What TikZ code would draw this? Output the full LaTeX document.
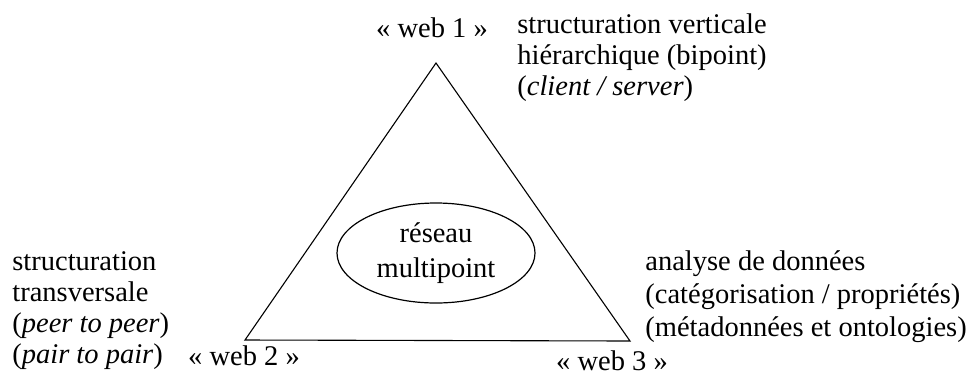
\documentclass[tikz,border=0pt]{standalone}
\usepackage{fontspec}
\setmainfont{Liberation Serif}
\usetikzlibrary{shapes.geometric}

\tikzset{
  txt/.style={inner sep=0pt, font=\fontsize{14.25}{15.5}\selectfont},
  block/.style={txt, anchor=base west, align=left},
  weblabel/.style={txt, anchor=base}
}

\begin{document}
\begin{tikzpicture}[x=0.5pt, y=-0.5pt]
\useasboundingbox (0,0) rectangle (970,382);
% the triangle
\coordinate (apex) at (436,63);
\coordinate (left) at (245,340);
\coordinate (right) at (630,341);
\draw[line width=0.55pt] (apex) -- (left) -- (right) -- cycle;
\node[ellipse, draw, line width=0.6pt, minimum width=99pt, minimum height=50pt,
  inner sep=0pt, align=center, font=\fontsize{14.25}{17.5}\selectfont] (reseau) at (436,253) {réseau\\multipoint};
% the three corners
\node[weblabel] (web1) at (432,37) {«~web 1~»};
\node[weblabel] (web2) at (244,365) {«~web 2~»};
\node[weblabel] (web3) at (612,370) {«~web 3~»};
% texts (placed at the baseline of their last line)
\node[block] (vert) at (517,95) {structuration verticale\\hiérarchique (bipoint)\\(\textit{client / server})};
\node[block] (trans) at (12,363) {structuration\\transversale\\(\textit{peer to peer})\\(\textit{pair to pair})};
\node[block, font=\fontsize{14.25}{16.5}\selectfont] (data) at (645,336) {analyse de données\\(catégorisation / propriétés)\\(métadonnées et ontologies)};
\end{tikzpicture}
\end{document}
